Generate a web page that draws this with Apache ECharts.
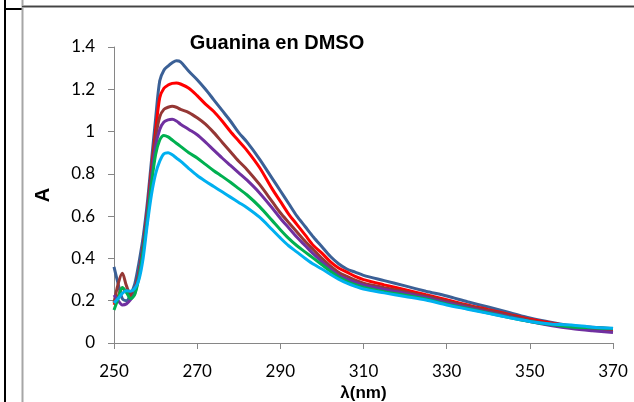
<!DOCTYPE html>
<html>
<head>
<meta charset="utf-8">
<script src="https://cdn.jsdelivr.net/npm/echarts@6/dist/echarts.min.js"></script>
<style>html,body{margin:0;padding:0;background:#fff;}#c{width:634px;height:402px;}</style>
</head>
<body>
<div id="c"></div>
<script>
const wavelengths = [250,251,252,253,254,255,256,257,258,259,260,261,262,263,264,265,266,268,270,272,274,276,278,280,282,285,288,290,292,294,296,298,300,302,304,306,308,310,315,320,325,330,335,340,345,350,355,360,365,370];

const serie1 = [0.36,0.28,0.21,0.20,0.23,0.28,0.38,0.50,0.66,0.86,1.06,1.24,1.29,1.31,1.325,1.335,1.33,1.285,1.245,1.20,1.15,1.10,1.05,0.995,0.95,0.87,0.78,0.72,0.66,0.60,0.55,0.50,0.455,0.41,0.375,0.35,0.335,0.32,0.295,0.27,0.245,0.222,0.195,0.17,0.145,0.118,0.098,0.082,0.075,0.068];
const serie2 = [0.18,0.22,0.26,0.24,0.22,0.25,0.33,0.45,0.62,0.82,1.00,1.16,1.205,1.22,1.228,1.23,1.225,1.205,1.17,1.13,1.095,1.05,1.00,0.955,0.91,0.83,0.73,0.67,0.61,0.56,0.51,0.46,0.425,0.385,0.355,0.335,0.315,0.30,0.275,0.252,0.228,0.205,0.18,0.158,0.135,0.112,0.095,0.08,0.072,0.066];
const serie3 = [0.19,0.28,0.33,0.27,0.23,0.25,0.33,0.45,0.61,0.80,0.97,1.07,1.105,1.115,1.12,1.115,1.105,1.09,1.065,1.035,0.995,0.95,0.905,0.86,0.82,0.75,0.67,0.616,0.57,0.525,0.48,0.44,0.40,0.365,0.335,0.315,0.297,0.283,0.262,0.242,0.222,0.198,0.176,0.154,0.132,0.108,0.09,0.075,0.066,0.06];
const serie4 = [0.227,0.20,0.18,0.185,0.205,0.235,0.32,0.44,0.60,0.78,0.93,1.01,1.045,1.055,1.058,1.05,1.035,1.01,0.985,0.95,0.912,0.875,0.84,0.805,0.77,0.71,0.64,0.59,0.545,0.50,0.46,0.42,0.385,0.35,0.322,0.302,0.287,0.274,0.253,0.235,0.215,0.19,0.168,0.146,0.124,0.102,0.083,0.068,0.058,0.05];
const serie5 = [0.156,0.21,0.263,0.24,0.21,0.23,0.31,0.43,0.58,0.75,0.89,0.96,0.982,0.975,0.96,0.945,0.93,0.90,0.875,0.845,0.815,0.788,0.76,0.73,0.70,0.645,0.58,0.536,0.495,0.46,0.43,0.40,0.37,0.34,0.312,0.292,0.276,0.263,0.243,0.226,0.208,0.184,0.163,0.142,0.121,0.102,0.087,0.076,0.072,0.068];
const serie6 = [0.19,0.21,0.235,0.247,0.245,0.258,0.30,0.40,0.56,0.70,0.80,0.86,0.895,0.90,0.89,0.875,0.86,0.825,0.792,0.765,0.74,0.715,0.69,0.665,0.64,0.595,0.537,0.497,0.46,0.43,0.40,0.372,0.35,0.325,0.302,0.283,0.268,0.255,0.237,0.22,0.203,0.18,0.16,0.14,0.12,0.102,0.09,0.085,0.075,0.07];

const seriesValues = [serie1, serie2, serie3, serie4, serie5, serie6];
const seriesColors = ['#3B6096','#FF0000','#953735','#7030A0','#00B050','#00B0F0'];

const chart = echarts.init(document.getElementById('c'), null, {renderer:'canvas'});
const tickFont = 'Lato, "Open Sans", sans-serif';
const boldFont = '"Liberation Sans", Arial, sans-serif';

chart.setOption({
  animation: false,
  backgroundColor: '#ffffff',
  grid: {left: 114, right: 21, top: 47, bottom: 59, containLabel: false, outerBoundsMode: 'none'},
  xAxis: {
    type: 'value', min: 250, max: 370, interval: 20,
    name: 'λ(nm)', nameLocation: 'middle', nameGap: 38,
    nameTextStyle: {fontFamily: boldFont, fontWeight: 'bold', fontSize: 17, color: '#000'},
    axisLine: {show: true, lineStyle: {color: '#868686', width: 1}},
    axisTick: {show: true, inside: false, length: 6, lineStyle: {color: '#868686'}},
    axisLabel: {fontFamily: tickFont, fontSize: 17, color: '#000', margin: 20},
    splitLine: {show: false}
  },
  yAxis: {
    type: 'value', min: 0, max: 1.4, interval: 0.2,
    name: 'A', nameLocation: 'middle', nameGap: 61, nameRotate: 90,
    nameTextStyle: {fontFamily: boldFont, fontWeight: 'bold', fontSize: 20, color: '#000'},
    axisLine: {show: true, lineStyle: {color: '#868686', width: 1}},
    axisTick: {show: true, inside: false, length: 6, lineStyle: {color: '#868686'}},
    axisLabel: {fontFamily: tickFont, fontSize: 17, color: '#000', margin: 19},
    splitLine: {show: false}
  },
  series: seriesValues.map((vals, i) => ({
    type: 'line',
    data: wavelengths.map((w, j) => [w, vals[j]]),
    showSymbol: false,
    smooth: 0.3,
    lineStyle: {color: seriesColors[i], width: 3},
    itemStyle: {color: seriesColors[i]},
    z: 2 + i
  })),
  graphic: [
    {type: 'text', x: 277, y: 43, style: {text: 'Guanina en DMSO', fontFamily: boldFont, fontWeight: 'bold', fontSize: 20, fill: '#000', textAlign: 'center', textVerticalAlign: 'middle'}},
    {type: 'line', shape: {x1: 5, y1: 0, x2: 5, y2: 402}, style: {stroke: '#000', lineWidth: 2}},
    {type: 'line', shape: {x1: 4, y1: 9, x2: 22, y2: 9}, style: {stroke: '#000', lineWidth: 2}},
    {type: 'line', shape: {x1: 22.5, y1: 0, x2: 22.5, y2: 402}, style: {stroke: '#a6a6a6', lineWidth: 2}},
    {type: 'line', shape: {x1: 22, y1: 6.5, x2: 634, y2: 6.5}, style: {stroke: '#a6a6a6', lineWidth: 3}},
    {type: 'line', shape: {x1: 22, y1: 6.5, x2: 634, y2: 6.5}, style: {stroke: '#444', lineWidth: 1}}
  ]
});
</script>
</body>
</html>
